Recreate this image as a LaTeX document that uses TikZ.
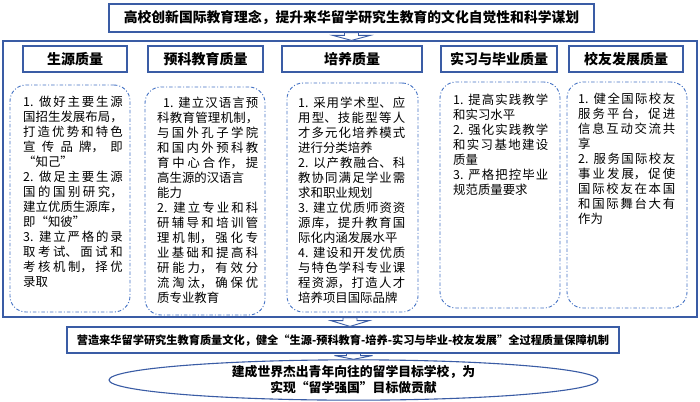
\documentclass[tikz,border=0pt]{standalone}
\usepackage{fontspec}
\setmainfont{Noto Sans CJK SC}
\usetikzlibrary{calc,shapes.geometric}
\XeTeXlinebreaklocale "zh"
\XeTeXlinebreakskip = 0pt plus 4pt
\tolerance=10000
\hbadness=10000
\definecolor{frameblue}{RGB}{68,114,196}
\definecolor{framedark}{RGB}{58,92,165}
\tikzset{
  solidbox/.style={draw=framedark, line width=1.2pt, fill=white, inner sep=0pt},
  dashbox/.style={draw=frameblue, line width=0.9pt, rounded corners=16pt,
    dash pattern=on 3.5pt off 2pt on 1pt off 2pt, inner sep=0pt},
  headtext/.style={font=\fontsize{14}{16}\selectfont\bfseries},
  bodytext/.style={anchor=north west, inner sep=0pt, align=justify,
    font=\fontsize{12.4}{15}\selectfont},
  blockarr/.style={draw=framedark, fill=white, line width=0.9pt, line join=miter},
}
\newcommand{\blockarrow}[3]{%
  \draw[blockarr] let \p1=#1, \p2=#2, \p3=#3 in
    ({\x1-7pt},\y2) -- ({\x1+7pt},\y2) -- ({\x1+7pt},{\y2+0.35*(\y3-\y2)})
    -- ({\x1+19pt},{\y2+0.35*(\y3-\y2)}) -- (\x1,\y3)
    -- ({\x1-19pt},{\y2+0.35*(\y3-\y2)}) -- ({\x1-7pt},{\y2+0.35*(\y3-\y2)}) -- cycle;}
\begin{document}
\begin{tikzpicture}[x=1pt,y=-1pt]
\useasboundingbox[fill=white] (0,0) rectangle (700,401);

% top title
\node[solidbox, minimum width=485pt, minimum height=28pt,
  font=\fontsize{13.8}{16}\selectfont\bfseries] (top) at (351.5,18)
  {高校创新国际教育理念，提升来华留学研究生教育的文化自觉性和科学谋划};

% outer frame
\node[solidbox, fill=none, minimum width=694pt, minimum height=276pt] (outer) at (350,179) {};

% headers
\node[solidbox, headtext, minimum width=104pt, minimum height=26pt] (h1) at (75,59) {生源质量};
\node[solidbox, headtext, minimum width=115pt, minimum height=26pt] (h2) at (205.5,59) {预科教育质量};
\node[solidbox, headtext, minimum width=140pt, minimum height=26pt] (h3) at (352,59) {培养质量};
\node[solidbox, headtext, minimum width=116pt, minimum height=26pt] (h4) at (499,59) {实习与毕业质量};
\node[solidbox, headtext, minimum width=114pt, minimum height=26pt] (h5) at (626,59) {校友发展质量};

% dash-dot boxes
\node[dashbox, minimum width=120pt, minimum height=227pt] (b1) at (70,198.5) {};
\node[dashbox, minimum width=120pt, minimum height=228pt] (b2) at (205,201) {};
\node[dashbox, minimum width=131pt, minimum height=229pt] (b3) at (352.5,197.5) {};
\node[dashbox, minimum width=120pt, minimum height=226pt] (b4) at (500,195) {};
\node[dashbox, minimum width=120pt, minimum height=226pt] (b5) at (627,195) {};

% body texts
\node[bodytext, text width=99.5pt] (t1) at (23,96) {%
1. 做好主要生源\linebreak 国招生发展布局，\linebreak 打造优势和特色\linebreak 宣传品牌，即\linebreak “知己”\par
2. 做足主要生源\linebreak 国的国别研究，\linebreak 建立优质生源库，\linebreak 即“知彼”\par
3. 建立严格的录\linebreak 取考试、面试和\linebreak 考核机制，择优\linebreak 录取};

\node[bodytext, text width=101pt] (t2) at (157,97) {%
\hspace*{6pt}1. 建立汉语言预\linebreak 科教育管理机制，\linebreak 与国外孔子学院\linebreak 和国内外预科教\linebreak 育中心合作，提\linebreak 高生源的汉语言\newline 能力\par
2. 建立专业和科\linebreak 研辅导和培训管\linebreak 理机制，强化专\linebreak 业基础和提高科\linebreak 研能力，有效分\linebreak 流淘汰，确保优\linebreak 质专业教育};

\node[bodytext, text width=107pt] (t3) at (298,97) {%
1. 采用学术型、应\linebreak 用型、技能型等人\linebreak 才多元化培养模式\linebreak 进行分类培养\par
2. 以产教融合、科\linebreak 教协同满足学业需\linebreak 求和职业规划\par
3. 建立优质师资资\linebreak 源库，提升教育国\linebreak 际化内涵发展水平\par
4. 建设和开发优质\linebreak 与特色学科专业课\linebreak 程资源，打造人才\linebreak 培养项目国际品牌};

\node[bodytext, text width=95pt] (t4) at (453,94) {%
1. 提高实践教学\linebreak 和实习水平\par
2. 强化实践教学\linebreak 和实习基地建设\linebreak 质量\par
3. 严格把控毕业\linebreak 规范质量要求};

\node[bodytext, text width=97pt] (t5) at (578,93) {%
1. 健全国际校友\linebreak 服务平台，促进\linebreak 信息互动交流共\linebreak 享\par
2. 服务国际校友\linebreak 事业发展，促使\linebreak 国际校友在本国\linebreak 和国际舞台大有\linebreak 作为};

% middle box
\node[solidbox, minimum width=552pt, minimum height=26pt,
  font=\fontsize{11.2}{13}\selectfont\bfseries] (mid) at (343,340)
  {营造来华留学研究生教育质量文化，健全“生源-预科教育-培养-实习与毕业-校友发展”全过程质量保障机制};

% ellipse
\node[ellipse, draw=framedark, line width=1.1pt, inner sep=0pt,
  minimum width=489pt, minimum height=34pt, align=center,
  font=\fontsize{12.8}{16}\selectfont\bfseries] (ell) at (353.5,380)
  {建成世界杰出青年向往的留学目标学校，为\\实现“留学强国”目标做贡献};

% block arrows
\blockarrow{(top.south)}{(top.south)}{(outer.north)}
\blockarrow{(outer.south)}{(outer.south)}{(mid.north)}
\blockarrow{(ell.north)}{(mid.south)}{(ell.north)}
\end{tikzpicture}
\end{document}
